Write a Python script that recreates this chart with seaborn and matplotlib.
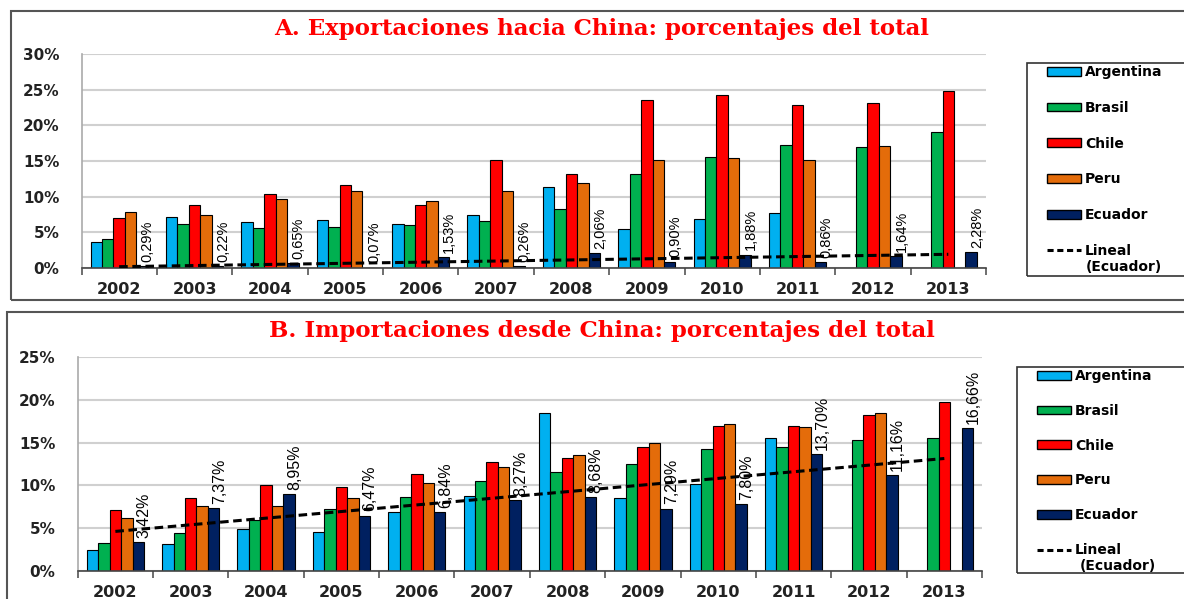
import numpy as np
import pandas as pd
import matplotlib.pyplot as plt
import seaborn as sns
from matplotlib.patches import Patch, Rectangle
from matplotlib.lines import Line2D

# Datos (porcentajes del total)
years = [str(y) for y in range(2002, 2014)]
countries = ['Argentina', 'Brasil', 'Chile', 'Peru', 'Ecuador']
colors = ['#00B0F0', '#00B050', '#FF0000', '#E46C0A', '#002060']

# A. Exportaciones hacia China
exp_argentina = [3.6, 7.1, 6.5, 6.7, 6.2, 7.4, 11.4, 5.4, 6.9, 7.7, np.nan, np.nan]
exp_brasil = [4.1, 6.2, 5.6, 5.7, 6.0, 6.6, 8.3, 13.2, 15.6, 17.3, 16.9, 19.0]
exp_chile = [7.0, 8.8, 10.4, 11.6, 8.8, 15.2, 13.2, 23.5, 24.3, 22.9, 23.2, 24.8]
exp_peru = [7.8, 7.5, 9.7, 10.8, 9.4, 10.8, 11.9, 15.2, 15.4, 15.2, 17.1, np.nan]
exp_ecuador = [0.29, 0.22, 0.65, 0.07, 1.53, 0.26, 2.06, 0.90, 1.88, 0.86, 1.64, 2.28]

# B. Importaciones desde China
imp_argentina = [2.4, 3.2, 4.9, 4.5, 6.9, 8.8, 18.4, 8.5, 10.2, 15.5, np.nan, np.nan]
imp_brasil = [3.3, 4.4, 5.9, 7.3, 8.7, 10.5, 11.6, 12.5, 14.2, 14.5, 15.3, 15.5]
imp_chile = [7.1, 8.5, 10.0, 9.8, 11.3, 12.7, 13.2, 14.5, 16.9, 16.9, 18.2, 19.8]
imp_peru = [6.2, 7.6, 7.6, 8.5, 10.3, 12.1, 13.6, 15.0, 17.2, 16.8, 18.5, np.nan]
imp_ecuador = [3.42, 7.37, 8.95, 6.47, 6.84, 8.27, 8.68, 7.29, 7.80, 13.70, 11.16, 16.66]

W, H = 1184, 599
plt.rcParams['font.family'] = ['DejaVu Sans']
fig = plt.figure(figsize=(W / 100, H / 100), dpi=100)
fig.patch.set_facecolor('white')

def px(x0, y0, x1, y1):
    # rectangulo en pixeles -> fraccion de figura
    return [x0 / W, 1 - y1 / H, (x1 - x0) / W, (y1 - y0) / H]

label_font = ['Liberation Sans', 'DejaVu Sans']

def panel(rect, series, ymax, title, title_y, lab_size, leg_rect, leg_first_y, leg_space):
    ax = fig.add_axes(px(*rect))
    ax.patch.set_alpha(0)
    df = pd.DataFrame({'year': np.repeat(years, len(countries)),
                       'country': countries * len(years),
                       'value': np.column_stack(series).ravel()})
    sns.barplot(data=df, x='year', y='value', hue='country', order=years,
                hue_order=countries, palette=colors, saturation=1, width=0.76,
                edgecolor='black', linewidth=0.8, errorbar=None, legend=False, ax=ax)
    ecu = np.array(series[-1])
    xs = np.arange(len(years))
    coef = np.polyfit(xs, ecu, 1)
    ax.plot(xs, np.polyval(coef, xs), color='black', lw=2.2, dashes=(2.8, 1.5), zorder=5)
    for i, v in enumerate(ecu):
        txt = f'{v:.2f}'.replace('.', ',') + '%'
        ax.annotate(txt, (i + 0.38, v), xytext=(0, 3), textcoords='offset points',
                    rotation=90, ha='center', va='bottom', fontsize=lab_size,
                    family=label_font, color='black', zorder=6)
    ax.set_xlim(-0.5, len(years) - 0.5)
    ax.set_ylim(0, ymax)
    ax.set_yticks(np.arange(0, ymax + 0.1, 5))
    ax.set_yticklabels([f'{int(t)}%' for t in ax.get_yticks()], fontsize=11,
                       fontweight='bold', color='#222222')
    ax.set_xticks(xs)
    ax.set_xticklabels(years, fontsize=11.5, fontweight='bold', color='#222222')
    ax.set_xticks(np.arange(-0.5, len(years)), minor=True)
    ax.tick_params(axis='x', which='major', length=0, pad=10)
    ax.tick_params(axis='x', which='minor', length=5, width=1.2, color='#555555', direction='out')
    ax.tick_params(axis='y', length=0, pad=16)
    ax.set_xlabel('')
    ax.set_ylabel('')
    ax.yaxis.grid(True, color='#D0D0D0', lw=1.5)
    ax.set_axisbelow(True)
    for s in ['top', 'right']:
        ax.spines[s].set_visible(False)
    ax.spines['left'].set_color('#AAAAAA')
    ax.spines['left'].set_linewidth(1.2)
    ax.spines['bottom'].set_color('#444444')
    ax.spines['bottom'].set_linewidth(1.2)

    fig.text(602 / W, 1 - title_y / H, title, ha='center', va='center', color='#FF0000',
             fontsize=16.5, fontweight='bold', family='DejaVu Serif')

    # leyenda
    fig.patches.append(Rectangle(px(*leg_rect)[:2], *px(*leg_rect)[2:], transform=fig.transFigure,
                                 fill=False, ec='#333333', lw=1.2))
    handles = [Patch(facecolor=c, edgecolor='black', lw=1) for c in colors]
    handles.append(Line2D([], [], color='black', lw=2.2, dashes=(2.0, 1.2)))
    labels = countries + ['Lineal']
    fig.legend(handles, labels, loc='upper left',
               bbox_to_anchor=((leg_rect[0] + 20) / W, 1 - leg_first_y / H),
               frameon=False, prop=dict(weight='bold', size=10), handlelength=2.45,
               handleheight=0.6, labelspacing=leg_space, handletextpad=0.3,
               borderaxespad=0, borderpad=0)
    return ax

# marcos de los paneles
fig.patches.append(Rectangle(px(10.5, 11, 1190, 300)[:2], *px(10.5, 11, 1190, 300)[2:],
                             transform=fig.transFigure, fill=False, ec='#555555', lw=1.5))
fig.patches.append(Rectangle(px(6.5, 312, 1190, 610)[:2], *px(6.5, 312, 1190, 610)[2:],
                             transform=fig.transFigure, fill=False, ec='#555555', lw=1.5))

panel((81.5, 54, 986, 268), [exp_argentina, exp_brasil, exp_chile, exp_peru, exp_ecuador],
      30, 'A. Exportaciones hacia China: porcentajes del total', 29, 10.5,
      (1027, 63, 1190, 276), 65, 1.57)
panel((77.7, 357, 982, 571), [imp_argentina, imp_brasil, imp_chile, imp_peru, imp_ecuador],
      25, 'B. Importaciones desde China: porcentajes del total', 331, 11.5,
      (1017, 367, 1190, 573), 369, 1.5)

fig.text(1086 / W, 1 - 267 / H, '(Ecuador)', ha='left', va='center', fontsize=10, fontweight='bold')
fig.text(1080 / W, 1 - 566 / H, '(Ecuador)', ha='left', va='center', fontsize=10, fontweight='bold')

fig.savefig('out.png', dpi=100, facecolor='white')
